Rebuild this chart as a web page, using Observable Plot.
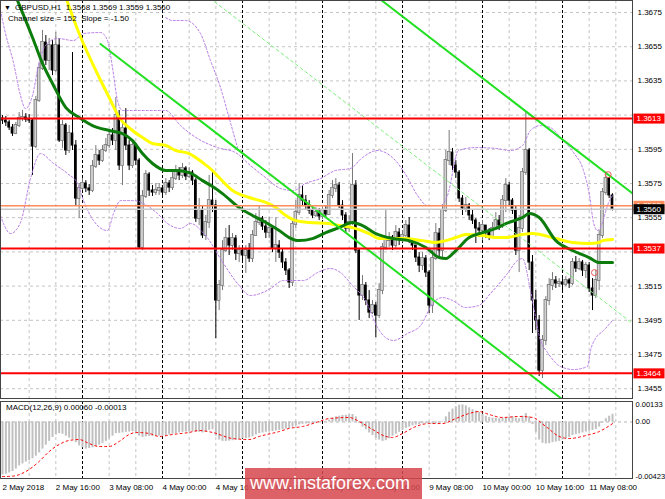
<!DOCTYPE html>
<html><head><meta charset="utf-8">
<script src="https://cdn.jsdelivr.net/npm/d3@7"></script>
<script src="https://cdn.jsdelivr.net/npm/@observablehq/plot@0.6"></script>
<style>
body{margin:0;background:#fff;}
#wrap{position:relative;width:665px;height:499px;overflow:hidden;background:#fff;font-family:"Liberation Sans",Arial,sans-serif;}
#wrap svg{position:absolute;left:0;}
.lbl{position:absolute;font-size:8px;line-height:10px;color:#000;white-space:pre;}
#wm{position:absolute;left:245px;top:468px;width:177px;height:31px;background:rgba(214,70,78,0.85);color:#fff;font-size:18px;line-height:30px;padding-left:5px;box-sizing:border-box;white-space:nowrap;}
</style></head><body>
<div id="wrap"></div>
<script>
// ---------- price data (GBPUSD H1, bar index 0 = 2 May 2018 00:00) ----------
const open = [1.36130,1.36118,1.36107,1.36077,1.36042,1.36089,1.36130,1.36136,1.36124,1.36118,
1.35966,1.36235,1.36422,1.36574,1.36469,1.36557,1.36411,1.36557,1.36001,1.36089,
1.35943,1.36042,1.35972,1.35662,1.35721,1.35750,1.35721,1.35709,1.35849,1.35914,
1.35884,1.35943,1.35972,1.36031,1.36001,1.36147,1.35855,1.36071,1.35972,1.35855,
1.35972,1.35884,1.35376,1.35674,1.35802,1.35709,1.35697,1.35709,1.35721,1.35697,
1.35750,1.35726,1.35779,1.35826,1.35797,1.35838,1.35791,1.35814,1.35767,1.35545,
1.35592,1.35446,1.35522,1.35650,1.35621,1.35066,1.35153,1.35358,1.35428,1.35387,
1.35428,1.35340,1.35358,1.35329,1.35358,1.35311,1.35446,1.35522,1.35545,1.35498,
1.35463,1.35487,1.35370,1.35387,1.35346,1.35288,1.35241,1.35171,1.35510,1.35580,
1.35680,1.35650,1.35621,1.35592,1.35563,1.35580,1.35557,1.35592,1.35569,1.35680,
1.35721,1.35738,1.35621,1.35563,1.35487,1.35522,1.35738,1.35358,1.35095,1.35153,
1.35066,1.34995,1.35036,1.34978,1.35124,1.35376,1.35416,1.35434,1.35387,1.35463,
1.35428,1.35446,1.35504,1.35416,1.35387,1.35317,1.35270,1.35311,1.35229,1.35036,
1.35311,1.35457,1.35358,1.35592,1.35884,1.35931,1.35855,1.35814,1.35662,1.35604,
1.35621,1.35563,1.35533,1.35487,1.35475,1.35504,1.35463,1.35440,1.35487,1.35533,
1.35504,1.35650,1.35738,1.35650,1.35592,1.35358,1.35487,1.35814,1.35943,1.35288,
1.35066,1.34949,1.34656,1.34832,1.35066,1.35153,1.35183,1.35165,1.35171,1.35159,
1.35183,1.35165,1.35288,1.35253,1.35288,1.35241,1.35270,1.35136,1.35095,1.35183,
1.35446,1.35697,1.35779,1.35680];
const high = [1.36147,1.36142,1.36118,1.36095,1.36107,1.36165,1.36177,1.36159,1.36153,1.36130,
1.36259,1.36457,1.36645,1.36615,1.36598,1.36586,1.36633,1.36598,1.36118,1.36101,
1.36089,1.36516,1.36001,1.35750,1.35779,1.35767,1.35744,1.35884,1.35972,1.35943,
1.35972,1.36013,1.36060,1.36071,1.36253,1.36177,1.36101,1.36188,1.36001,1.36001,
1.35984,1.35896,1.35709,1.35826,1.35814,1.35738,1.35750,1.35750,1.35732,1.35779,
1.35767,1.35814,1.35855,1.35843,1.35867,1.35849,1.35843,1.35826,1.35779,1.35662,
1.35621,1.35563,1.35797,1.35814,1.35650,1.35183,1.35416,1.35487,1.35504,1.35457,
1.35446,1.35387,1.35370,1.35387,1.35399,1.35475,1.35574,1.35621,1.35557,1.35533,
1.35551,1.35504,1.35551,1.35416,1.35370,1.35311,1.35253,1.35545,1.35650,1.35750,
1.35738,1.35680,1.35650,1.35621,1.35609,1.35604,1.35621,1.35615,1.35709,1.35767,
1.35779,1.35756,1.35650,1.35580,1.35563,1.35925,1.35767,1.35370,1.35212,1.35171,
1.35124,1.35066,1.35054,1.35165,1.35399,1.35592,1.35463,1.35446,1.35504,1.35487,
1.35475,1.35533,1.35551,1.35428,1.35387,1.35346,1.35346,1.35329,1.35241,1.35358,
1.35516,1.35487,1.35621,1.35943,1.36060,1.35955,1.35884,1.35826,1.35680,1.35668,
1.35633,1.35592,1.35545,1.35522,1.35533,1.35504,1.35487,1.35522,1.35580,1.35563,
1.35680,1.35779,1.35756,1.35662,1.35621,1.35563,1.35838,1.36165,1.35955,1.35329,
1.35124,1.34978,1.34861,1.35089,1.35194,1.35229,1.35206,1.35194,1.35194,1.35206,
1.35194,1.35311,1.35323,1.35311,1.35300,1.35288,1.35288,1.35194,1.35241,1.35475,
1.35721,1.35814,1.35785,1.35690];
const low = [1.36095,1.36083,1.36060,1.36025,1.36036,1.36077,1.36112,1.36107,1.36101,1.35797,
1.35955,1.36224,1.36411,1.36440,1.36411,1.36381,1.36399,1.35990,1.35955,1.35914,
1.35925,1.35943,1.35621,1.35545,1.35709,1.35697,1.35680,1.35697,1.35838,1.35855,
1.35873,1.35931,1.35955,1.35972,1.35943,1.35826,1.35738,1.35943,1.35826,1.35838,
1.35855,1.35364,1.35358,1.35662,1.35674,1.35674,1.35680,1.35680,1.35674,1.35680,
1.35697,1.35709,1.35767,1.35767,1.35779,1.35767,1.35779,1.35738,1.35522,1.35504,
1.35428,1.35416,1.35487,1.35580,1.34843,1.35007,1.35124,1.35346,1.35329,1.35358,
1.35300,1.35288,1.35288,1.35224,1.35288,1.35288,1.35440,1.35504,1.35475,1.35428,
1.35428,1.35346,1.35288,1.35311,1.35253,1.35212,1.35136,1.35147,1.35487,1.35563,
1.35621,1.35592,1.35569,1.35545,1.35551,1.35533,1.35539,1.35545,1.35563,1.35662,
1.35697,1.35604,1.35533,1.35463,1.35463,1.35504,1.35340,1.34949,1.35066,1.35036,
1.34960,1.34984,1.34849,1.34960,1.35100,1.35358,1.35376,1.35358,1.35370,1.35387,
1.35405,1.35428,1.35399,1.35358,1.35288,1.35229,1.35241,1.35200,1.34990,1.34990,
1.35300,1.35311,1.35311,1.35580,1.35855,1.35826,1.35779,1.35639,1.35563,1.35580,
1.35533,1.35510,1.35399,1.35434,1.35416,1.35428,1.35416,1.35428,1.35475,1.35475,
1.35487,1.35580,1.35621,1.35569,1.35329,1.35229,1.35463,1.35797,1.35241,1.34873,
1.34890,1.34621,1.34609,1.34802,1.35036,1.35124,1.35136,1.35142,1.35124,1.35147,
1.35136,1.35153,1.35229,1.35241,1.35206,1.35194,1.35112,1.35007,1.35077,1.35124,
1.35428,1.35680,1.35662,1.35590];
const close = [1.36118,1.36107,1.36077,1.36042,1.36089,1.36130,1.36136,1.36124,1.36118,1.35966,
1.36235,1.36422,1.36574,1.36469,1.36557,1.36411,1.36557,1.36001,1.36089,1.35943,
1.36042,1.35972,1.35662,1.35721,1.35750,1.35721,1.35709,1.35849,1.35914,1.35884,
1.35943,1.35972,1.36031,1.36001,1.36147,1.35855,1.36071,1.35972,1.35855,1.35972,
1.35884,1.35376,1.35674,1.35802,1.35709,1.35697,1.35709,1.35721,1.35697,1.35750,
1.35726,1.35779,1.35826,1.35797,1.35838,1.35791,1.35814,1.35767,1.35545,1.35592,
1.35446,1.35522,1.35650,1.35621,1.35066,1.35153,1.35358,1.35428,1.35387,1.35428,
1.35340,1.35358,1.35329,1.35358,1.35311,1.35446,1.35522,1.35545,1.35498,1.35463,
1.35487,1.35370,1.35387,1.35346,1.35288,1.35241,1.35171,1.35510,1.35580,1.35680,
1.35650,1.35621,1.35592,1.35563,1.35580,1.35557,1.35592,1.35569,1.35680,1.35721,
1.35738,1.35621,1.35563,1.35487,1.35522,1.35738,1.35358,1.35095,1.35153,1.35066,
1.34995,1.35036,1.34978,1.35124,1.35376,1.35416,1.35434,1.35387,1.35463,1.35428,
1.35446,1.35504,1.35416,1.35387,1.35317,1.35270,1.35311,1.35229,1.35036,1.35311,
1.35457,1.35358,1.35592,1.35884,1.35931,1.35855,1.35814,1.35662,1.35604,1.35621,
1.35563,1.35533,1.35487,1.35475,1.35504,1.35463,1.35440,1.35487,1.35533,1.35504,
1.35650,1.35738,1.35650,1.35592,1.35358,1.35487,1.35814,1.35943,1.35288,1.35066,
1.34949,1.34656,1.34832,1.35066,1.35153,1.35183,1.35165,1.35171,1.35159,1.35183,
1.35165,1.35288,1.35253,1.35288,1.35241,1.35270,1.35136,1.35095,1.35183,1.35446,
1.35697,1.35779,1.35680,1.35600];

// ---------- indicator lines: [bar index, price] ----------
const maYellow = [[17,1.36950],[23,1.36627],[29,1.36370],[32,1.36253],[35,1.36136],[39,1.36060],[42,1.36019],[45,1.35984],[47,1.35978],[49,1.35972],[52,1.35943],[56,1.35925],[60,1.35873],[63,1.35826],[65,1.35785],[69,1.35709],[74,1.35668],[79,1.35639],[82,1.35609],[85,1.35563],[88,1.35533],[92,1.35522],[98,1.35516],[101,1.35504],[105,1.35492],[110,1.35457],[113,1.35428],[120,1.35428],[126,1.35416],[130,1.35405],[133,1.35416],[136,1.35434],[139,1.35452],[144,1.35446],[148,1.35434],[151,1.35434],[156,1.35452],[159,1.35457],[166,1.35428],[171,1.35405],[176,1.35399],[179,1.35405],[180,1.35416],[183,1.35422]];
const maGreen = [[2,1.36937],[9,1.36604],[12,1.36452],[15,1.36335],[19,1.36194],[23,1.36136],[27,1.36089],[32,1.36060],[36,1.36042],[39,1.36001],[42,1.35925],[45,1.35867],[49,1.35826],[52,1.35826],[56,1.35814],[60,1.35767],[63,1.35732],[66,1.35691],[71,1.35609],[75,1.35563],[79,1.35522],[83,1.35475],[86,1.35434],[89,1.35416],[93,1.35428],[97,1.35463],[101,1.35492],[105,1.35522],[108,1.35504],[112,1.35457],[117,1.35428],[122,1.35416],[127,1.35376],[131,1.35317],[133,1.35311],[136,1.35358],[140,1.35434],[144,1.35463],[148,1.35487],[151,1.35516],[156,1.35551],[158,1.35574],[161,1.35551],[166,1.35416],[171,1.35358],[176,1.35317],[179,1.35288],[183,1.35288]];
const bandUpper = [[-0.6,1.36762],[0.9,1.36627],[3.3,1.36457],[5.4,1.36264],[6.9,1.36188],[9,1.36264],[10.8,1.36440],[12.9,1.36557],[16.5,1.36598],[21.3,1.36586],[24.3,1.36627],[29.4,1.36633],[31.5,1.36586],[33,1.36428],[34.5,1.36235],[36,1.36177],[42.9,1.36177],[48.9,1.36177],[53.4,1.36089],[58.5,1.36013],[64.5,1.35960],[69.9,1.35931],[74.4,1.35855],[78.9,1.35785],[83.4,1.35721],[87.3,1.35709],[90.9,1.35750],[95.4,1.35779],[99.9,1.35826],[104.4,1.35838],[108,1.35902],[112.5,1.35943],[117.3,1.35896],[121.5,1.35785],[124.5,1.35680],[127.5,1.35621],[131.4,1.35621],[133.5,1.35680],[136.8,1.35943],[141.9,1.35960],[147.9,1.35955],[152.4,1.35943],[156,1.35972],[158.4,1.36060],[161.4,1.36089],[164.4,1.36077],[167.4,1.36019],[171.3,1.35931],[174.3,1.35826],[176.1,1.35680],[177.3,1.35522],[178.5,1.35475],[180,1.35522],[181.5,1.35621],[183,1.35680]];
const bandLower = [[-0.6,1.35563],[0.3,1.35516],[2.4,1.35457],[5.4,1.35522],[8.4,1.35779],[11.4,1.35925],[15.3,1.35867],[19.5,1.35808],[22.5,1.35750],[24.3,1.35650],[27.3,1.35533],[31.5,1.35475],[33.3,1.35574],[35.4,1.35650],[39.3,1.35650],[42.3,1.35633],[46.5,1.35574],[49.5,1.35516],[53.4,1.35487],[56.4,1.35516],[60.9,1.35446],[66.3,1.35282],[70.5,1.35165],[74.4,1.35095],[77.4,1.35107],[80.4,1.35136],[84.3,1.35183],[87.3,1.35183],[90.3,1.35183],[94.5,1.35229],[98.4,1.35253],[101.4,1.35229],[105,1.35153],[108.9,1.35066],[112.5,1.34908],[114.9,1.34849],[117.3,1.34832],[121.5,1.34873],[125.4,1.34919],[129.3,1.35054],[132,1.35083],[135,1.35066],[138.9,1.35025],[142.8,1.35036],[146.4,1.35107],[151.5,1.35224],[154.5,1.35300],[156,1.35311],[158.4,1.35124],[161.4,1.34832],[163.5,1.34762],[167.4,1.34680],[171.3,1.34662],[175.5,1.34680],[176.4,1.34773],[177.9,1.34843],[180.3,1.34890],[183,1.34949]];
const bandExtra = [[49,1.36720],[51,1.36703],[54.9,1.36703],[59.4,1.36627],[62.4,1.36469],[65.4,1.36311],[67.8,1.36147],[70.5,1.35960]];

// regression channel (Channel size = 152, Slope = -1.50): end points
const channelIdx = [29.4, 190];
const channelUpper = [1.38086, 1.35677];
const channelMid = [1.37326, 1.34917];
const channelLower = [1.36566, 1.34157];

const redLevels = [1.3613, 1.3537, 1.3464];
const orangeLevel = 1.3562;
const bidLevel = 1.3560;
const fractals = [[181.7, 1.35802], [177.6, 1.35229]];

// axes / grid
const priceGrid = [1.3675,1.3655,1.3635,1.3615,1.3595,1.3575,1.3555,1.3535,1.3515,1.3495,1.3475,1.3455];
const priceTicks = [1.3675,1.3655,1.3635,1.3595,1.3575,1.3555,1.3515,1.3495,1.3475,1.3455];
const hourGrid = [8,16,32,40,56,64,80,88,104,112,128,136,152,160,176,184];
const dayGrid = [24,48,72,96,120,144,168];
const timeIdx = [0,16,32,48,64,80,96,112,128,144,160,176];
const timeLabels = ["2 May 2018","2 May 16:00","3 May 08:00","4 May 00:00","4 May 16:00","7 May 08:00","8 May 00:00","8 May 16:00","9 May 08:00","10 May 00:00","10 May 16:00","11 May 08:00"];

// MACD(12,26,9)
const macdMain = [-0.00410,-0.00405,-0.00395,-0.00384,-0.00365,-0.00340,-0.00325,-0.00310,-0.00300,-0.00285,
-0.00265,-0.00240,-0.00210,-0.00180,-0.00150,-0.00120,-0.00100,-0.00090,-0.00095,-0.00110,
-0.00125,-0.00135,-0.00160,-0.00185,-0.00200,-0.00210,-0.00205,-0.00200,-0.00190,-0.00180,
-0.00165,-0.00150,-0.00130,-0.00110,-0.00090,-0.00088,-0.00085,-0.00080,-0.00078,-0.00075,
-0.00080,-0.00110,-0.00120,-0.00115,-0.00112,-0.00112,-0.00112,-0.00110,-0.00108,-0.00105,
-0.00100,-0.00095,-0.00090,-0.00085,-0.00080,-0.00078,-0.00075,-0.00075,-0.00080,-0.00080,
-0.00085,-0.00080,-0.00065,-0.00060,-0.00110,-0.00140,-0.00150,-0.00150,-0.00148,-0.00145,
-0.00140,-0.00135,-0.00130,-0.00128,-0.00125,-0.00115,-0.00100,-0.00090,-0.00085,-0.00080,
-0.00075,-0.00075,-0.00070,-0.00065,-0.00060,-0.00055,-0.00050,-0.00040,-0.00030,-0.00022,
-0.00018,-0.00015,-0.00015,-0.00012,-0.00008,-0.00005,0.00000,0.00005,0.00015,0.00028,
0.00040,0.00045,0.00050,0.00052,0.00055,0.00058,0.00040,-0.00010,-0.00040,-0.00060,
-0.00085,-0.00105,-0.00125,-0.00140,-0.00150,-0.00145,-0.00130,-0.00110,-0.00095,-0.00080,
-0.00065,-0.00050,-0.00040,-0.00030,-0.00025,-0.00020,-0.00015,-0.00012,-0.00015,-0.00018,
-0.00012,-0.00008,0.00005,0.00040,0.00075,0.00100,0.00118,0.00130,0.00133,0.00125,
0.00110,0.00095,0.00085,0.00075,0.00060,0.00045,0.00035,0.00030,0.00028,0.00025,
0.00030,0.00035,0.00038,0.00040,0.00030,0.00025,0.00045,0.00065,0.00040,-0.00020,
-0.00080,-0.00140,-0.00165,-0.00170,-0.00168,-0.00160,-0.00155,-0.00150,-0.00140,-0.00130,
-0.00120,-0.00105,-0.00098,-0.00092,-0.00085,-0.00078,-0.00072,-0.00065,-0.00058,-0.00040,
-0.00010,0.00025,0.00045,0.00060];
const macdSignal = [[0,-0.00423],[3,-0.00420],[8,-0.00368],[11,-0.00306],[14,-0.00229],[17,-0.00174],[20,-0.00143],[23,-0.00136],[26,-0.00167],[29,-0.00190],[32,-0.00190],[35,-0.00151],[38,-0.00097],[40,-0.00081],[44,-0.00089],[47,-0.00112],[51,-0.00097],[56,-0.00081],[59,-0.00066],[63,-0.00081],[69,-0.00128],[74,-0.00136],[77,-0.00112],[83,-0.00074],[86,-0.00050],[90,-0.00035],[95,0.00004],[98,0.00027],[104,0.00035],[107,0.00004],[111,-0.00058],[115,-0.00112],[117,-0.00120],[120,-0.00089],[124,-0.00035],[128,-0.00012],[132,-0.00012],[136,0.00027],[140,0.00066],[143,0.00081],[146,0.00058],[150,0.00035],[155,0.00043],[159,0.00035],[163,-0.00035],[167,-0.00112],[170,-0.00128],[175,-0.00105],[179,-0.00074],[183,-0.00013]];
const macdTicks = [0.00133, 0, -0.00423];
const macdTickLabels = ["0.00133", "0.00", "-0.00423"];

// ---------- build ----------
const bars = close.map((c, i) => ({i, o: open[i], h: high[i], l: low[i], c}));
const upBars = bars.filter(d => d.c >= d.o);
const dnBars = bars.filter(d => d.c < d.o);
const times = timeIdx.map((i, k) => ({i, label: timeLabels[k]}));
const chan = (arr) => channelIdx.map((i, k) => [i, arr[k]]);
const levelLabels = [
  ...redLevels.map(p => ({p, bg: "#ff0000"})),
  {p: orangeLevel, bg: "#ff8c5a"},
  {p: bidLevel, bg: "#000000"}
];
const xDomain = [-0.6, 189.0];
const font = "Liberation Sans, Arial, sans-serif";
const P = d => d[0], Q = d => d[1];
const bandStyle = {x: P, y: Q, stroke: "#b97ae8", strokeWidth: 1, strokeDasharray: "2,2", curve: "monotone-x", clip: true};

const main = Plot.plot({
  width: 665, height: 400, marginLeft: 0, marginRight: 33, marginTop: 0, marginBottom: 2,
  x: {domain: xDomain, axis: null},
  y: {domain: [1.344927, 1.368202], axis: null},
  style: {background: "transparent", fontFamily: font, fontSize: "8px", overflow: "visible"},
  marks: [
    Plot.ruleY(priceGrid, {stroke: "#c4c4c4", strokeDasharray: "3,3"}),
    Plot.ruleX(hourGrid, {stroke: "#c4c4c4", strokeDasharray: "3,3"}),
    Plot.ruleX(dayGrid, {stroke: "#000", strokeDasharray: "3,2"}),
    Plot.ruleX(upBars, {x: "i", y1: "l", y2: "h", stroke: "#7a7a7a"}),
    Plot.ruleX(dnBars, {x: "i", y1: "l", y2: "h", stroke: "#000"}),
    Plot.rect(upBars, {x1: d => d.i - 0.4, x2: d => d.i + 0.4, y1: "o", y2: "c", fill: "#d2d2d2", stroke: "#777", strokeWidth: 0.8, insetTop: -0.5, insetBottom: -0.5}),
    Plot.rect(dnBars, {x1: d => d.i - 0.4, x2: d => d.i + 0.4, y1: "o", y2: "c", fill: "#000", insetTop: -0.5, insetBottom: -0.5}),
    Plot.line(bandUpper, bandStyle),
    Plot.line(bandLower, bandStyle),
    Plot.line(bandExtra, bandStyle),
    Plot.line(maYellow, {x: P, y: Q, stroke: "#ffff00", strokeWidth: 3, curve: "monotone-x", clip: true}),
    Plot.line(maGreen, {x: P, y: Q, stroke: "#0c7d0c", strokeWidth: 3, curve: "monotone-x", clip: true}),
    Plot.line(chan(channelUpper), {x: P, y: Q, stroke: "#22e022", strokeWidth: 2, clip: true}),
    Plot.line(chan(channelLower), {x: P, y: Q, stroke: "#22e022", strokeWidth: 2, clip: true}),
    Plot.line(chan(channelMid), {x: P, y: Q, stroke: "#7ded7d", strokeWidth: 1, strokeDasharray: "3,3", clip: true}),
    Plot.ruleY(redLevels, {stroke: "#ff0000", strokeWidth: 2}),
    Plot.ruleY([orangeLevel], {stroke: "#ff8c5a", strokeWidth: 1.5}),
    Plot.ruleY([bidLevel], {stroke: "#c8c8c8", strokeWidth: 1.5}),
    Plot.dot(fractals, {x: P, y: Q, r: 3, stroke: "#e8554e", fill: "none", strokeWidth: 1}),
    Plot.text(priceTicks, {y: d => d, text: d => d.toFixed(4), frameAnchor: "right", dx: 5, textAnchor: "start", fontSize: 8, fill: "#000"}),
    Plot.text(levelLabels, {y: "p", text: d => d.p.toFixed(4), frameAnchor: "right", dx: 4, textAnchor: "start", fontSize: 8, fill: "#fff", ariaDescription: "levels"}),
    Plot.frame({stroke: "#444"})
  ]
});

const macd = Plot.plot({
  width: 665, height: 99, marginLeft: 0, marginRight: 33, marginTop: 1, marginBottom: 21,
  x: {domain: xDomain, axis: null},
  y: {domain: [-0.00438, 0.001589], axis: null},
  style: {background: "transparent", fontFamily: font, fontSize: "8px", overflow: "visible"},
  marks: [
    Plot.ruleX(hourGrid, {stroke: "#c4c4c4", strokeDasharray: "3,3"}),
    Plot.ruleX(dayGrid, {stroke: "#000", strokeDasharray: "3,2"}),
    Plot.ruleY([0], {stroke: "#b4b4b4", strokeDasharray: "3,3"}),
    Plot.ruleX(macdMain.map((v, i) => ({i, v})), {x: "i", y1: 0, y2: "v", stroke: "#c0c0c0", strokeWidth: 2}),
    Plot.line(macdSignal, {x: P, y: Q, stroke: "#ff0000", strokeWidth: 1, strokeDasharray: "2,3", curve: "monotone-x"}),
    Plot.text(macdTicks, {y: d => d, text: (d, k) => macdTickLabels[k], frameAnchor: "right", dx: 3, textAnchor: "start", fontSize: 7.5, fill: "#000"}),
    Plot.text(times, {x: "i", text: "label", frameAnchor: "bottom", dy: 11, textAnchor: "start", fontSize: 8, fill: "#000"}),
    Plot.frame({stroke: "#444"})
  ]
});

const wrap = document.getElementById("wrap");
main.style.top = "0px";
macd.style.top = "400px";
wrap.appendChild(main);
wrap.appendChild(macd);

// background boxes behind the price-level labels
d3.select(main).selectAll('g[aria-description="levels"] text').each(function(_, k) {
  const bb = this.getBBox();
  const r = document.createElementNS("http://www.w3.org/2000/svg", "rect");
  r.setAttribute("x", bb.x - 3);
  r.setAttribute("y", bb.y - 0.5);
  r.setAttribute("width", bb.width + 6);
  r.setAttribute("height", bb.height + 1);
  r.setAttribute("fill", levelLabels[k].bg);
  r.setAttribute("stroke", "none");
  const t = this.getAttribute("transform");
  if (t) r.setAttribute("transform", t);
  this.parentNode.insertBefore(r, this);
});

function addLabel(text, left, top, extra) {
  const d = document.createElement("div");
  d.className = "lbl";
  d.textContent = text;
  d.style.left = left + "px";
  d.style.top = top + "px";
  if (extra) Object.assign(d.style, extra);
  wrap.appendChild(d);
}
addLabel("▼", 4, 3, {fontSize: "7px"});
addLabel("GBPUSD,H1  1.3568 1.3569 1.3559 1.3560", 15, 3);
addLabel("Channel size = 152  Slope = -1.50", 8, 14);
addLabel("MACD(12,26,9) 0.00060 -0.00013", 6, 403);

const wm = document.createElement("div");
wm.id = "wm";
wm.textContent = "www.instaforex.com";
wrap.appendChild(wm);
</script></body></html>
